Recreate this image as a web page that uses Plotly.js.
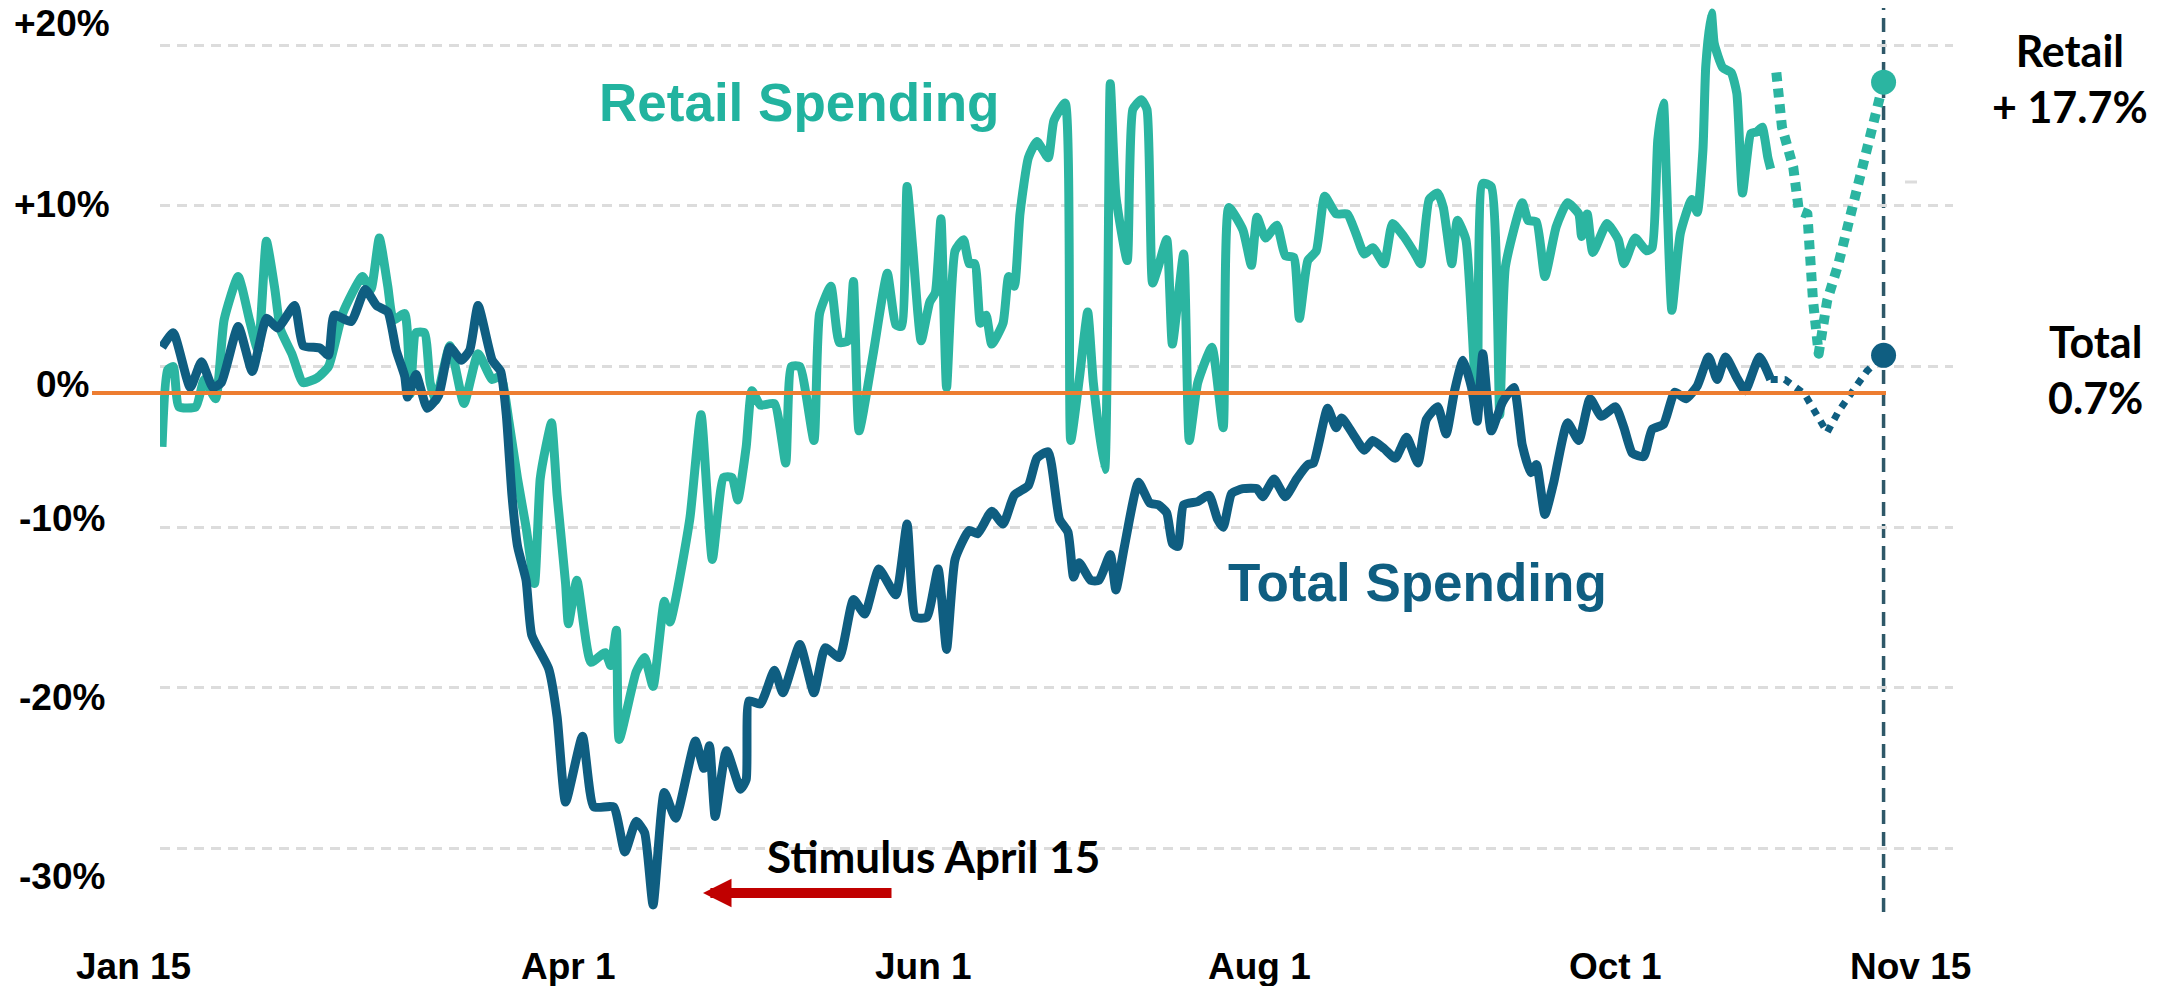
<!DOCTYPE html>
<html>
<head>
<meta charset="utf-8">
<script src="https://cdn.plot.ly/plotly-3.0.1.min.js"></script>
<style>
html,body{margin:0;padding:0;background:#ffffff;}
#chart{width:2172px;height:986px;}
.scatterlayer path.js-line{stroke-linejoin:round;}
</style>
</head>
<body>
<div id="chart"></div>
<script>
// ---------------- DATA (days after Jan 15, 2020 ; % change) ----------------
const retailDay = [0,1,2,3,6,7.5,9.5,11,13.5,15.5,
  17,18.5,20,21,23,25,27.5,29.5,32,35.5,
  37,38.5,40,41,43,44,45,46.5,47.5,48.5,
  51,53.5,56,58.5,60,61.5,63,64.5,66,67,
  68,69,70,71.5,72,73.5,76,78.5,79.5,80.5,
  81,84,85.5,87,89,90,93.5,95.5,97.5,99.5,
  101,102,103.5,104.5,106,108.5,110.5,111.5,113,115.5,
  116.5,118.5,120,121.5,122.5,123.5,126,128.5,130,131,
  132,133,134.5,136,137,138,139,140.5,142,143,
  144,145,146,147,149,150,151,152,153.5,155,
  157,158,160,161,162.5,164,165,167,168,169,
  171,172,173.5,174.5,175.5,176.5,178,179,181,182,
  183.5,186,188,189,191.5,193,194,195.5,197.5,199,
  200.5,201.5,203,204.5,206,208,210,211.5,213,214.5,
  216.5,218,220,222,223,224.5,226,227,228.5,229.5,
  231,233,234,235.5,237,238,241,242,243.5,245,
  247,249,251,251.5,252.5,253.5,256,258,259,261,
  263,264,265,266,266.5,267.5,269,271,272,273,
  273.5,274.5,275,276.5,278,279,280,281.5,282.5,283.5,
  284,284.5,285];
const retailVal = [-5.0,-0.2,0,-2.5,-2.5,-0.8,-2.0,2.9,5.6,2.9,
  1.0,7.8,4.8,2.3,0.8,-1.0,-0.7,0,3.3,5.6,
  4.8,8.0,5.0,2.9,3.3,-1.7,2.1,2.1,-1.0,-2.1,
  1.3,-2.3,0.8,-0.8,-0.6,-3.5,-7.0,-10.0,-13.5,-7.0,
  -5.0,-3.5,-8.0,-13.5,-16.0,-13.3,-18.4,-17.8,-18.6,-16.4,
  -23.2,-19.0,-18.1,-19.9,-14.6,-15.9,-9.5,-3.0,-12.0,-6.9,
  -6.9,-8.3,-5.0,-1.5,-2.4,-2.3,-6.0,0,0,-4.6,
  3.3,5.0,1.5,1.6,5.3,-4.0,0.8,5.8,2.6,2.5,
  11.2,7.4,1.6,4.0,4.6,9.2,-1.3,7.2,7.9,6.4,
  6.4,2.7,3.2,1.4,2.7,5.6,5.0,9.5,13.0,14.0,
  13.0,15.3,16.4,-4.6,-0.8,3.4,-1.0,-6.4,17.6,10.6,
  6.6,16.0,16.6,16.0,5.2,6.2,7.9,1.4,7.0,-4.6,
  -1.0,1.2,-3.8,9.9,8.5,6.3,9.3,8.0,8.8,6.9,
  6.8,3.0,6.6,7.2,10.6,9.5,9.5,8.3,7.0,7.4,
  6.4,8.9,8.1,7.0,6.4,10.4,10.8,9.9,6.4,9.1,
  7.9,-3.0,11.4,11.2,-3.0,6.2,10.2,9.1,9.0,5.6,
  8.7,10.2,9.5,8.1,9.5,7.1,8.9,7.9,6.4,8.0,
  7.2,7.4,14.1,16.4,12.0,3.5,8.3,10.4,9.6,13.5,
  18.7,22.0,20.1,18.6,18.3,17.0,10.8,14.5,14.6,14.9,
  14.1,13.0,12.3];
const retailProjDay = [286,287,289,290,291.5,292,292.5,293.5,295,297,299.5,302.5,305];
const retailProjVal = [18.3,14.9,12.4,9.7,9.5,6.6,4.1,0.8,4.1,6.4,9.9,14.5,17.7];

const totalDay = [0,2,5,7,9,10.5,13.5,16,18.5,20.5,
  23.5,25,28,29.5,30.5,33.5,36,38,40,41.5,
  43,43.5,45,47,49,51,53,54.5,56,58.5,
  60,61,62,63,64.5,65.5,68.5,70,71.5,74.5,
  76.5,80,82,84,85.5,87,89,91,94.5,96,
  97,98,100,102.5,103.5,104,106,108.5,110,113,
  115.5,117.5,120,122.5,124.5,127,130,132,133.5,135.5,
  137.5,139,140.5,143,144.5,147,149,151,153.5,155,
  157,159,160.5,161.5,162.5,164.5,166,168,169,170.5,
  173,175,176.5,178,179,180,181,183.5,185.5,187,
  188,189.5,191.5,194,195,197,199,201,203,204,
  206.5,208,209,211,213,214.5,216.5,218.5,220.5,222.5,
  224,226,227.5,229,230.5,232,233,234,235.5,237.5,
  239.5,241,242.5,243.5,245,246.5,249,251,253,255,
  257.5,259,260.5,262.5,264,266,268,270,272,274,
  275.5,277,279,280.5,283,285];
const totalVal = [1.2,2.1,-1.3,0.3,-1.3,-1.0,2.5,-0.3,3.0,2.4,
  3.8,1.3,1.15,0.7,3.2,2.8,4.8,3.8,3.4,1.0,
  -0.6,-1.9,-0.5,-2.6,-1.8,1.2,0.4,1.0,3.8,0.4,
  -0.3,-3.0,-8.0,-11.2,-13.3,-16.7,-18.8,-21.8,-27.1,-23.0,
  -27.4,-27.4,-30.2,-28.3,-29.0,-33.5,-26.5,-28.1,-23.3,-25.0,
  -23.6,-28.0,-23.9,-26.3,-25.7,-20.8,-21.0,-18.9,-20.3,-17.3,
  -20.3,-17.5,-18.1,-14.5,-15.4,-12.6,-14.2,-9.8,-15.6,-15.6,
  -12.6,-17.6,-12.0,-10.2,-10.4,-9.0,-9.8,-8.0,-7.4,-5.7,
  -5.3,-9.5,-10.3,-13.1,-12.2,-13.3,-13.3,-11.7,-13.9,-11.2,
  -7.2,-8.5,-8.6,-9.1,-11.0,-11.2,-8.6,-8.4,-8.0,-9.5,
  -10.0,-7.9,-7.6,-7.6,-8.1,-7.0,-8.1,-7.0,-6.1,-6.0,
  -2.6,-3.8,-3.2,-4.2,-5.2,-4.6,-5.1,-5.7,-4.4,-6.0,
  -3.3,-2.5,-4.2,-1.5,0.4,-1.3,-3.4,0.8,-4.0,-2.2,
  -1.3,-4.9,-6.6,-6.1,-9.2,-7.3,-3.5,-4.6,-2.0,-3.1,
  -2.5,-3.8,-5.4,-5.6,-3.9,-3.6,-1.6,-2.0,-1.2,0.6,
  -0.8,0.6,-0.7,-1.5,0.6,-0.8];
const totalProjDay = [285,287.5,291,293,295,297,302,305];
const totalProjVal = [-0.8,-0.8,-1.7,-2.8,-4.1,-2.8,-0.3,0.7];

const yTickVals   = [20,10,0,-10,-20,-30];
const yTickLabels = ['+20%','+10%','0%','-10%','-20%','-30%'];
const xTickLabels = ['Jan 15','Apr 1','Jun 1','Aug 1','Oct 1','Nov 15'];

// ---------------- helpers ----------------
const BASE = Date.UTC(2020,0,15);
function toDate(d){ return new Date(BASE + d*86400000).toISOString().slice(0,19).replace('T',' '); }

const W = 2172, H = 986, ML = 160, MR = 219, MT = 5, MB = 65;
const PW = W - ML - MR, PH = H - MT - MB;
const px = x => (x - ML) / PW;          // pixel -> paper (layout only)
const py = y => (H - MB - y) / PH;

const TEAL = '#2BB5A1', NAVY = '#0F5E81', ORANGE = '#ED7D31', RED = '#C00000';
const ARIAL = 'Liberation Sans, Arial, sans-serif';
const CALI = 'Lato, Carlito, Calibri, sans-serif';

const endDay = retailProjDay[retailProjDay.length-1];
const retailEnd = retailProjVal[retailProjVal.length-1];
const totalEnd = totalProjVal[totalProjVal.length-1];

// ---------------- traces ----------------
const traces = [
  {x: retailDay.map(toDate), y: retailVal, mode:'lines', line:{color:TEAL, width:9, shape:'spline', smoothing:0.5}, hoverinfo:'skip'},
  {x: retailProjDay.map(toDate), y: retailProjVal, mode:'lines', line:{color:TEAL, width:10, dash:'9px,7px'}, hoverinfo:'skip'},
  {x: totalDay.map(toDate), y: totalVal, mode:'lines', line:{color:NAVY, width:9, shape:'spline', smoothing:0.5}, hoverinfo:'skip'},
  {x: totalProjDay.map(toDate), y: totalProjVal, mode:'lines', line:{color:NAVY, width:7, dash:'7px,7px'}, hoverinfo:'skip'},
  {x: [toDate(endDay), toDate(endDay)], y: [retailEnd, totalEnd], mode:'markers',
   marker:{size:25, color:[TEAL, NAVY]}, hoverinfo:'skip'}
];

// ---------------- layout ----------------
const yLabelPx = [24, 205, 384, 518, 697, 876];
const xLabelPx = [133, 568, 923, 1259, 1615, 1910];

const annotations = [];
yTickLabels.forEach((t,i)=>annotations.push({xref:'paper', yref:'paper', x:px(62), y:py(yLabelPx[i]),
  text:t, showarrow:false, xanchor:'center', yanchor:'middle',
  font:{family:ARIAL, size:37, color:'#000000', weight:700}}));
xTickLabels.forEach((t,i)=>annotations.push({xref:'paper', yref:'paper', x:px(xLabelPx[i]), y:py(966),
  text:t, showarrow:false, xanchor:'center', yanchor:'middle',
  font:{family:ARIAL, size:37, color:'#000000', weight:700}}));
annotations.push(
  {xref:'paper', yref:'paper', x:px(799), y:py(102), text:'Retail Spending', showarrow:false,
   xanchor:'center', yanchor:'middle', font:{family:ARIAL, size:53, color:'#22B39F', weight:700}},
  {xref:'paper', yref:'paper', x:px(1417), y:py(582), text:'Total Spending', showarrow:false,
   xanchor:'center', yanchor:'middle', font:{family:ARIAL, size:53, color:NAVY, weight:700}},
  {xref:'paper', yref:'paper', x:px(933), y:py(856), text:'Stimulus April 15', showarrow:false,
   xanchor:'center', yanchor:'middle', font:{family:CALI, size:44, color:'#000000', weight:700}},
  {xref:'paper', yref:'paper', x:px(2070), y:py(78), text:'Retail<br>+ ' + retailEnd.toFixed(1) + '%', showarrow:false,
   xanchor:'center', yanchor:'middle', align:'center', font:{family:CALI, size:43, color:'#000000', weight:700}},
  {xref:'paper', yref:'paper', x:px(2095), y:py(369), text:'Total<br>' + totalEnd.toFixed(1) + '%', showarrow:false,
   xanchor:'center', yanchor:'middle', align:'center', font:{family:CALI, size:43, color:'#000000', weight:700}},
  {xref:'paper', yref:'paper', x:px(703), y:py(893), ax:190, ay:0, axref:'pixel', ayref:'pixel',
   text:'', showarrow:true, arrowhead:2, arrowsize:0.57, arrowwidth:10, arrowcolor:RED, standoff:0}
);

const shapes = [
  {type:'rect', xref:'paper', yref:'paper', x0:px(1899), x1:1, y0:py(230), y1:1,
   fillcolor:'#ffffff', line:{width:0}, layer:'between'},
  {type:'line', xref:'paper', yref:'paper', x0:px(1905), x1:px(1917), y0:py(182), y1:py(182),
   line:{color:'#DCDCDC', width:3}, layer:'between'},
  {type:'line', xref:'x', yref:'paper', x0:toDate(endDay), x1:toDate(endDay), y0:py(912), y1:py(8),
   line:{color:'#2E5868', width:3.5, dash:'14px,8px'}, layer:'between'},
  {type:'line', xref:'paper', yref:'paper', x0:px(92), x1:px(1886), y0:py(393), y1:py(393),
   line:{color:ORANGE, width:4}, layer:'above'}
];

const layout = {
  width: W, height: H,
  margin:{l:ML, r:MR, t:MT, b:MB, pad:0},
  paper_bgcolor:'#ffffff', plot_bgcolor:'#ffffff',
  showlegend:false,
  xaxis:{type:'date', range:[toDate(-0.354), toDate(317.3)], showgrid:false, zeroline:false,
         showticklabels:false, showline:false, ticks:'', fixedrange:true},
  yaxis:{range:[-34.5, 22.5], tickvals:yTickVals, ticktext:yTickLabels, showticklabels:false,
         showgrid:true, gridcolor:'#DCDCDC', gridwidth:3, griddash:'10px,7px',
         zeroline:false, showline:false, ticks:'', fixedrange:true},
  annotations: annotations,
  shapes: shapes
};

Plotly.newPlot('chart', traces, layout, {displayModeBar:false, staticPlot:true});
</script>
</body>
</html>
